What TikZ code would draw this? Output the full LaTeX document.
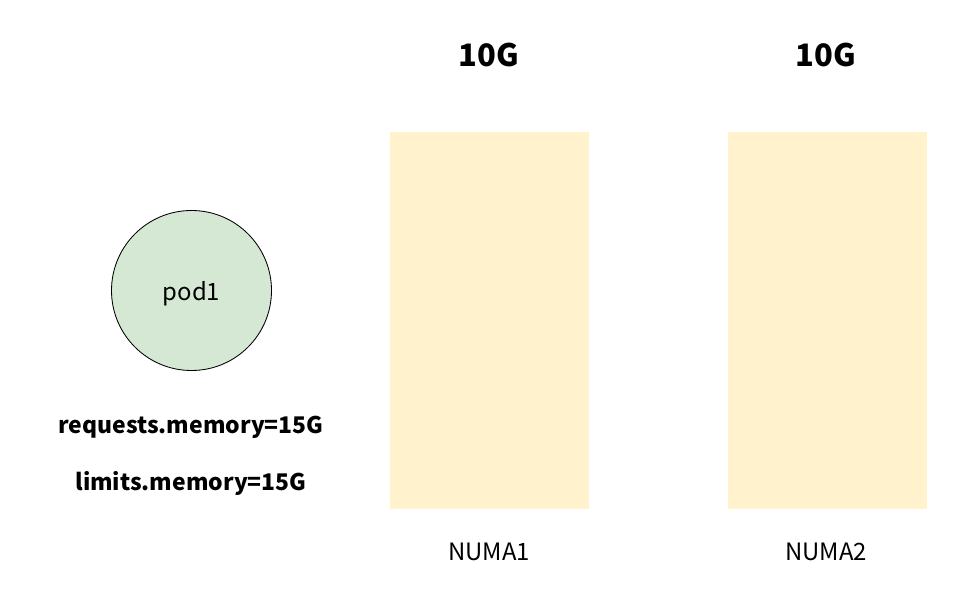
\documentclass[tikz,border=0pt]{standalone}
\usepackage{fontspec}
\setmainfont{Noto Sans CJK SC}
\usepackage{xcolor}
\usetikzlibrary{positioning}
\definecolor{numayellow}{HTML}{FFF2CC}
\definecolor{podgreen}{HTML}{D5E8D4}

\begin{document}
\begin{tikzpicture}[
        numa/.style={fill=numayellow, minimum width=4.975cm, minimum height=9.425cm, inner sep=0pt},
        pod/.style={circle, draw, line width=0.6pt, fill=podgreen, minimum size=4cm, inner sep=0pt, text depth=0pt, font=\fontsize{17}{20}\selectfont},
        size/.style={font=\fontsize{22}{26}\selectfont\bfseries},
        spec/.style={text depth=0pt, font=\fontsize{16.3}{20}\selectfont\bfseries},
        caption/.style={font=\fontsize{17}{20}\selectfont}
    ]
        \useasboundingbox (0, 0) rectangle (24, 15.3);

        % Memory sizes
        \node[size] (size1) at (12.225, 13.925) {10G};
        \node[size] (size2) at (20.65, 13.925) {10G};

        % NUMA nodes
        \node[numa] (numa1) at (12.2375, 7.2875) {};
        \node[numa] (numa2) at (20.6875, 7.2875) {};

        \node[caption] (label1) at (12.225, 1.5) {NUMA1};
        \node[caption] (label2) at (20.65, 1.5) {NUMA2};

        % Pod
        \node[pod] (pod1) at (4.7875, 8.0375) {pod1};

        \node[spec] (req) at (4.775, 4.68) {requests.memory=15G};
        \node[spec] (lim) at (4.775, 3.28) {limits.memory=15G};
    \end{tikzpicture}
\end{document}
